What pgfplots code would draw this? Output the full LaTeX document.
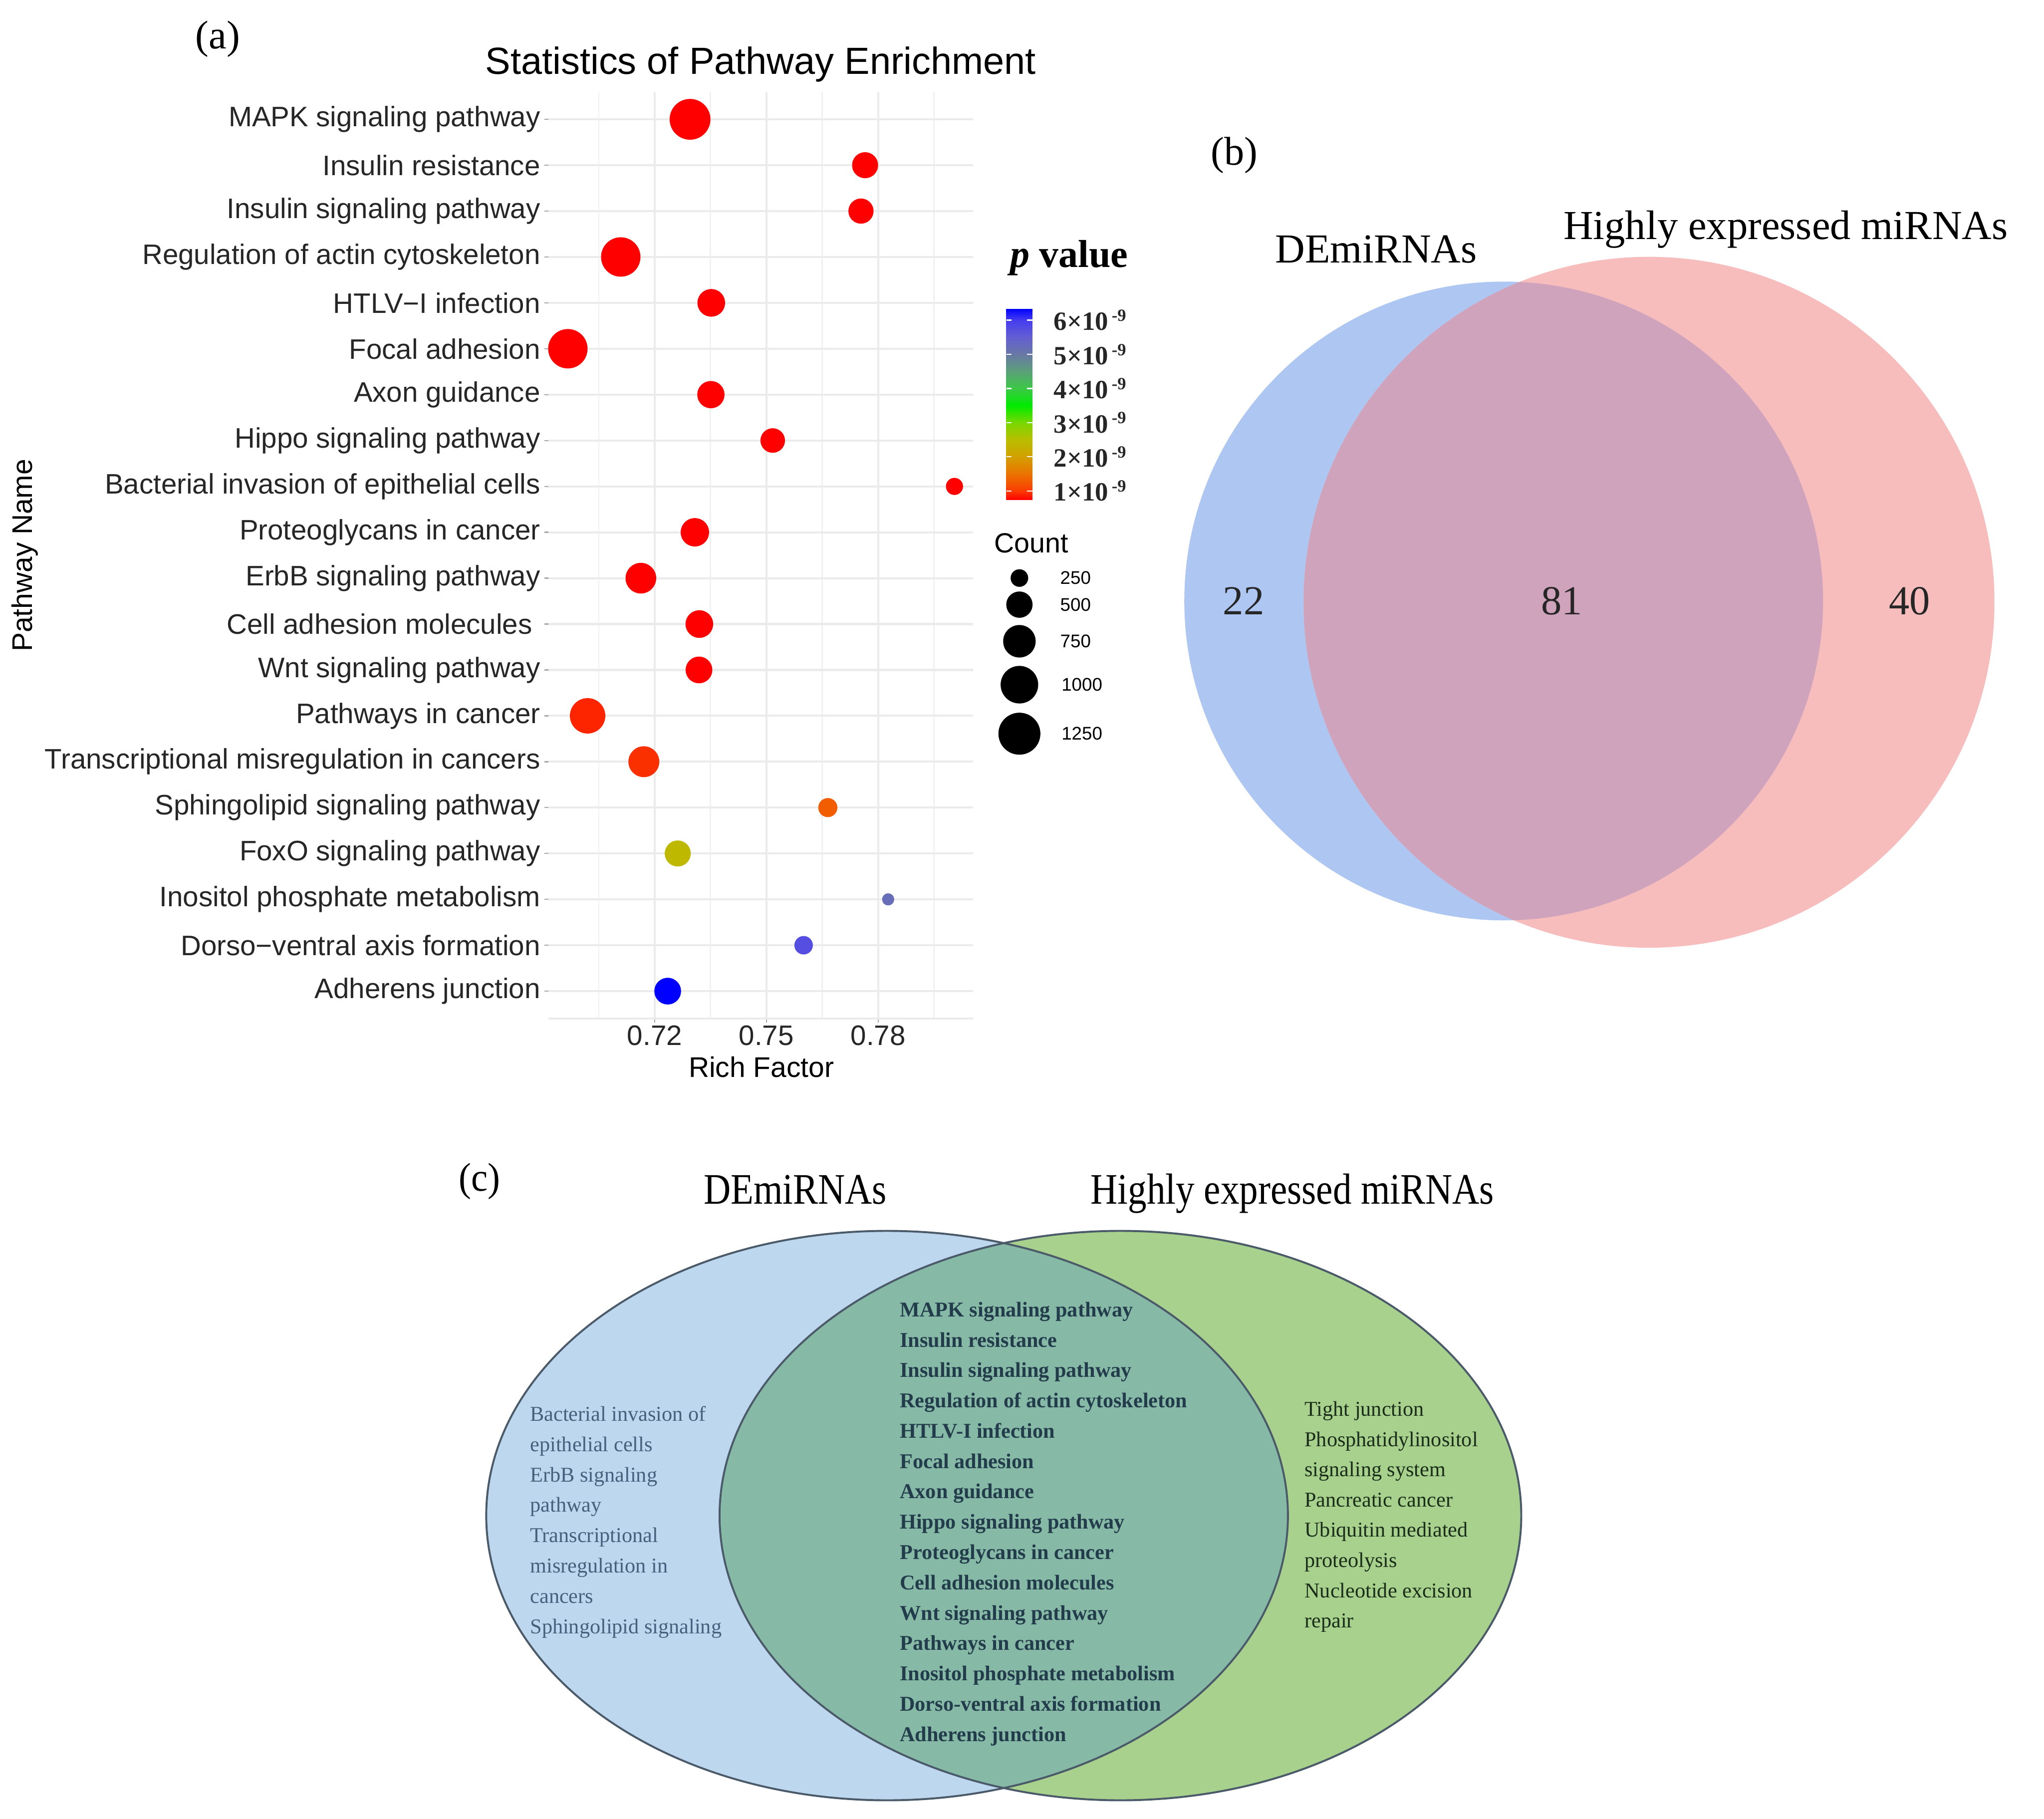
\documentclass[border=0pt]{standalone}
\usepackage{fontspec}
\setmainfont{Liberation Serif}
\newfontfamily\arial{Liberation Sans}
\usepackage{graphicx}
\usepackage{pgfplots}
\pgfplotsset{compat=1.18}
\usepackage{pgfplotstable}

\definecolor{vbblue}{RGB}{174,198,242}
\definecolor{vbpink}{RGB}{247,189,189}
\definecolor{vbover}{RGB}{207,163,187}
\definecolor{vcblue}{RGB}{189,215,238}
\definecolor{vcgreen}{RGB}{169,209,142}
\definecolor{vcover}{RGB}{134,186,166}
\definecolor{vcline}{RGB}{75,90,105}
\definecolor{gridc}{RGB}{235,235,235}
\definecolor{midtxt}{RGB}{35,60,75}
\definecolor{lefttxt}{RGB}{70,95,125}
\definecolor{righttxt}{RGB}{25,45,25}

% y = 21 - row (MAPK at top = 20)
\pgfplotstableread{
y x count p
20 0.7295 1180 0.74
19 0.7765 490 0.74
18 0.7754 460 0.74
17 0.7109 1100 0.74
16 0.7352 550 0.74
15 0.6967 1100 0.74
14 0.7351 535 0.74
13 0.7517 440 0.74
12 0.8005 240 0.74
11 0.7308 580 0.74
10 0.7163 670 0.74
9 0.7320 550 0.74
8 0.7319 515 0.74
7 0.7020 890 0.90
6 0.7171 680 0.95
5 0.7665 285 1.30
4 0.7262 490 2.40
3 0.7827 155 5.20
2 0.7600 270 5.75
1 0.7235 515 6.34
}\enrich

\pgfplotstableread{
x y count p
0 -443.4 250 1
0 -463.8 500 1
0 -491.9 750 1
0 -525.2 1000 1
0 -562.8 1250 1
}\sizelegend

\pgfplotsset{
  pmapstyle/.style={
    colormap={pmap}{rgb255(0cm)=(255,0,0) rgb255(0.26cm)=(250,60,0)
      rgb255(0.76cm)=(235,115,0) rgb255(1.26cm)=(210,160,0)
      rgb255(1.76cm)=(185,190,0) rgb255(2.26cm)=(120,215,0)
      rgb255(2.76cm)=(0,235,0) rgb255(3.26cm)=(60,200,70)
      rgb255(3.76cm)=(90,160,120) rgb255(4.26cm)=(105,120,165)
      rgb255(4.76cm)=(100,95,210) rgb255(5.26cm)=(70,60,240)
      rgb255(5.6cm)=(0,0,255)},
    point meta min=0.74, point meta max=6.34,
  },
  sizedots/.style={
    scatter, only marks, mark=*,
    point meta=\thisrow{p},
    scatter/use mapped color={#1},
    visualization depends on={0.626+0.2458*sqrt(max(\thisrow{count}-100,0)) \as \msize},
    scatter/@pre marker code/.append style={/tikz/mark size=\msize},
  },
}

\newcommand{\cbl}[1]{\textbf{#1×10}\hspace{1.5pt}\raisebox{0.75ex}{\fontsize{7.5}{8}\selectfont\textbf{-9}}}

\begin{document}
\begin{tikzpicture}
\path[use as bounding box] (0,0) rectangle (313.6mm,-279mm);

\begin{scope}[x=0.2mm,y=-0.2mm]
  % ---------- Venn (b)
  \fill[vbblue] (1153.5,461) circle[radius=245];
  \fill[vbpink] (1265,462) circle[radius=265];
  \begin{scope}
    \clip (1153.5,461) circle[radius=245];
    \fill[vbover] (1265,462) circle[radius=265];
  \end{scope}
  \node[anchor=base west, inner sep=0] at (978,201.5) {\fontsize{18}{21}\selectfont DEmiRNAs};
  \node[anchor=base west, inner sep=0] at (1199,183.6) {\fontsize{18}{21}\selectfont Highly expressed miRNAs};
  \node[inner sep=0, text=black!85] at (954,461) {\fontsize{18}{21}\selectfont 22};
  \node[inner sep=0, text=black!85] at (1198,461) {\fontsize{18}{21}\selectfont 81};
  \node[inner sep=0, text=black!85] at (1465,461) {\fontsize{18}{21}\selectfont 40};

  % ---------- Venn (c)
  \fill[vcblue] (680.5,1162.6) ellipse[x radius=307.5, y radius=218.4];
  \fill[vcgreen] (859.5,1162.6) ellipse[x radius=307.5, y radius=218.4];
  \begin{scope}
    \clip (680.5,1162.6) ellipse[x radius=307.5, y radius=218.4];
    \fill[vcover] (859.5,1162.6) ellipse[x radius=307.5, y radius=218.4];
  \end{scope}
  \draw[vcline, line width=0.3mm] (680.5,1162.6) ellipse[x radius=307.5, y radius=218.4];
  \draw[vcline, line width=0.3mm] (859.5,1162.6) ellipse[x radius=307.5, y radius=218.4];

  \node[anchor=base west, inner sep=0] at (539.5,923.7) {\scalebox{0.86}[1]{\fontsize{19}{22}\selectfont DEmiRNAs}};
  \node[anchor=base west, inner sep=0] at (836.4,923.7) {\scalebox{0.86}[1]{\fontsize{19}{22}\selectfont Highly expressed miRNAs}};

  \foreach \txt [count=\i from 0] in {MAPK signaling pathway,Insulin resistance,Insulin signaling pathway,Regulation of actin cytoskeleton,HTLV-I infection,Focal adhesion,Axon guidance,Hippo signaling pathway,Proteoglycans in cancer,Cell adhesion molecules,Wnt signaling pathway,Pathways in cancer,Inositol phosphate metabolism,Dorso-ventral axis formation,Adherens junction}
    \node[anchor=base west, inner sep=0, text=midtxt] at (690,{1010+\i*23.26}) {\fontsize{9.2}{11}\selectfont\bfseries \txt};

  \foreach \txt [count=\i from 0] in {Bacterial invasion of,epithelial cells,ErbB signaling,pathway,Transcriptional,misregulation in,cancers,Sphingolipid signaling}
    \node[anchor=base west, inner sep=0, text=lefttxt] at (406.4,{1090+\i*23.3}) {\fontsize{9.2}{11}\selectfont \txt};

  \foreach \txt [count=\i from 0] in {Tight junction,Phosphatidylinositol,signaling system,Pancreatic cancer,Ubiquitin mediated,proteolysis,Nucleotide excision,repair}
    \node[anchor=base west, inner sep=0, text=righttxt] at (1000.5,{1086.2+\i*23.2}) {\fontsize{9.2}{11}\selectfont \txt};

  % ---------- panel labels
  \node[inner sep=0] at (167,30) {\fontsize{17.5}{20}\selectfont (a)};
  \node[inner sep=0] at (947,119) {\fontsize{17.5}{20}\selectfont (b)};
  \node[inner sep=0] at (368,906) {\scalebox{0.93}[1]{\fontsize{17.5}{20}\selectfont (c)}};

  % ---------- panel (a) texts
  \node[anchor=base, inner sep=0] at (583.5,57) {\arial\fontsize{16.5}{19}\selectfont Statistics of Pathway Enrichment};
  \node[anchor=base, inner sep=0] at (584,826.4) {\arial\fontsize{12.4}{14}\selectfont Rich Factor};
  \node[rotate=90, inner sep=0] at (19,426) {\arial\fontsize{12.4}{14}\selectfont Pathway Name};
  \node[anchor=base west, inner sep=0] at (774.5,205) {\fontsize{17}{20}\selectfont\textbf{\textit{p}} \textbf{value}};
  \node[anchor=base west, inner sep=0] at (762.4,424) {\arial\fontsize{12.1}{14}\selectfont Count};
  \node[anchor=west, inner sep=0] at (813,443.4) {\arial\fontsize{8}{9}\selectfont 250};
  \node[anchor=west, inner sep=0] at (813,463.8) {\arial\fontsize{8}{9}\selectfont 500};
  \node[anchor=west, inner sep=0] at (813,491.9) {\arial\fontsize{8}{9}\selectfont 750};
  \node[anchor=west, inner sep=0] at (814,525.2) {\arial\fontsize{8}{9}\selectfont 1000};
  \node[anchor=west, inner sep=0] at (814,562.8) {\arial\fontsize{8}{9}\selectfont 1250};
\end{scope}

% ---------- panel (a) bubble chart
\begin{axis}[
  pmapstyle,
  at={(84.12mm,-156.28mm)}, anchor=south west,
  scale only axis, width=65.14mm, height=142.2mm,
  clip=false,
  xmin=0.69144, xmax=0.80544,
  ymin=0.4, ymax=20.6,
  xtick={0.72,0.75,0.78}, xticklabels={0.72,0.75,0.78},
  minor xtick={0.705,0.735,0.765,0.795},
  ytick={1,...,20},
  yticklabels={Adherens junction,Dorso−ventral axis formation,Inositol phosphate metabolism,FoxO signaling pathway,Sphingolipid signaling pathway,Transcriptional misregulation in cancers,Pathways in cancer,Wnt signaling pathway,Cell adhesion molecules\hspace*{3.5pt},ErbB signaling pathway,Proteoglycans in cancer,Bacterial invasion of epithelial cells,Hippo signaling pathway,Axon guidance,Focal adhesion,HTLV−I infection,Regulation of actin cytoskeleton,Insulin signaling pathway,Insulin resistance,MAPK signaling pathway},
  grid=both,
  major grid style={draw=gridc, line width=0.9pt},
  minor grid style={draw=gridc!70!white, line width=0.6pt},
  axis line style={draw=none},
  xtick pos=lower, ytick pos=lower,
  tick align=outside,
  major tick length=0.6mm, minor tick length=0pt,
  tick style={draw=gray!70, line width=0.5pt},
  yticklabel style={font=\arial\fontsize{12.3}{14}\selectfont, inner xsep=1.6pt, text=black!85},
  xticklabel style={font=\arial\fontsize{12.3}{14}\selectfont, inner ysep=1.2pt, text=black!85},
  colorbar,
  colorbar style={
    at={(parent axis.north east)}, anchor=north west,
    xshift=2.14mm, yshift=-33.26mm,
    scale only axis, width=4mm, height=29.34mm,
    ytick={1,2,3,4,5,6},
    yticklabels={\cbl{1},\cbl{2},\cbl{3},\cbl{4},\cbl{5},\cbl{6}},
    ytick style={draw=white, line width=0.5pt},
    major tick length=0.8mm,
    tick align=inside,
    axis line style={draw=none},
    yticklabel style={font=\fontsize{11.5}{13}\selectfont, anchor=west, inner sep=0pt, xshift=3.2mm, text=black!85},
  },
]
\draw[gridc, line width=0.9pt] (axis description cs:0,0) -- (axis description cs:1,0);
\addplot[sizedots={draw=mapped color, fill=mapped color}] table[x=x, y=y] {\enrich};
\end{axis}

% ---------- size legend
\begin{axis}[
  pmapstyle,
  at={(154.4mm,-116mm)}, anchor=south west,
  scale only axis, width=4mm, height=30mm,
  xmin=-10, xmax=10, ymin=-580, ymax=-430,
  axis lines=none, clip=false,
]
\addplot[sizedots={draw=black, fill=black}] table[x=x, y=y] {\sizelegend};
\end{axis}
\end{tikzpicture}
\end{document}
